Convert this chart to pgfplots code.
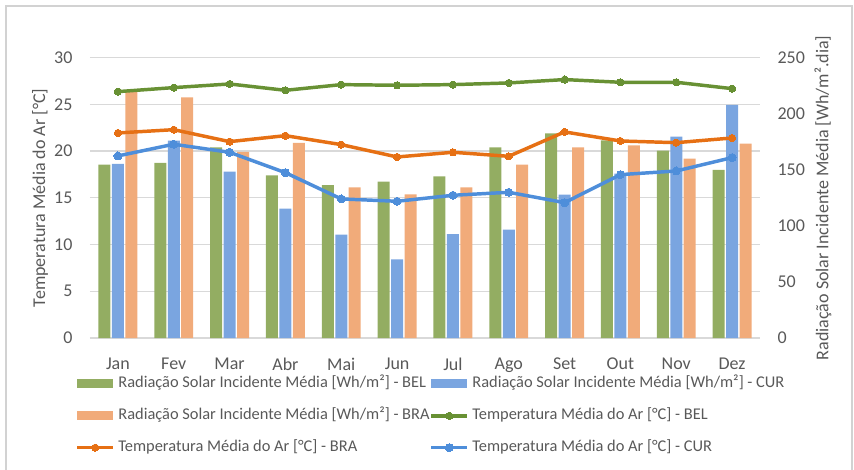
\documentclass[border=0pt]{standalone}
\usepackage{pgfplots}
\usepackage{pgfplotstable}
\pgfplotsset{compat=1.18}
\usepackage{fontspec}
\setmainfont{Carlito}
\definecolor{gridc}{RGB}{217,217,217}
\definecolor{framec}{RGB}{210,210,210}
\definecolor{txt}{RGB}{89,89,89}
\definecolor{barG}{RGB}{147,173,98}
\definecolor{barB}{RGB}{122,165,224}
\definecolor{barO}{RGB}{241,171,122}
\definecolor{lnG}{RGB}{104,145,52}
\definecolor{lnO}{RGB}{230,112,20}
\definecolor{lnB}{RGB}{78,142,218}

\pgfplotstableread{
x bel cur bra
0 154.6 155.2 220.0
1 156.1 176.0 214.6
2 170.0 148.3 165.9
3 145.1 115.3 173.9
4 136.4 92.2 134.4
5 139.4 70.2 128.1
6 144.2 92.7 134.4
7 170.0 96.6 154.6
8 182.5 127.8 170.0
9 176.3 146.5 171.8
10 167.1 179.5 159.9
11 149.8 207.8 173.3
}\rad

\pgfplotstableread{
x bel bra cur
0 26.36 21.94 19.48
1 26.79 22.29 20.73
2 27.18 21.01 19.87
3 26.50 21.65 17.69
4 27.11 20.69 14.88
5 27.04 19.37 14.63
6 27.11 19.87 15.27
7 27.29 19.44 15.59
8 27.65 22.05 14.48
9 27.36 21.08 17.48
10 27.36 20.90 17.87
11 26.68 21.40 19.30
}\temp

\pgfplotsset{
  base/.style={
    scale only axis, width=502.5pt, height=210.3pt,
    xmin=-0.5, xmax=11.5, ymin=0,
    axis line style={draw=none},
    major tick length=0pt,
    tick style={draw=none},
    ticklabel style={font=\fontsize{13.5}{16}\selectfont, text=txt, inner sep=0pt},
    /pgf/number format/assume math mode=true,
  },
  barleg/.style={legend image code/.code={\fill[##1] (0pt,-3.4pt) rectangle (27pt,3.4pt);}},
  lineleg/.style={legend image code/.code={\draw[mark repeat=2,mark phase=2,##1] plot coordinates {(0pt,0pt) (13.5pt,0pt) (27pt,0pt)};}},
}

\begin{document}
\begin{tikzpicture}
% grid + left axis
\begin{axis}[base, ymax=30, ytick={0,5,...,30}, xtick=\empty,
  ymajorgrids, grid style={gridc, line width=0.9pt},
  yticklabel style={xshift=-13pt},
  every axis y label/.style={at={(axis description cs:-0.0746,0.5)}, rotate=90, anchor=center, font=\fontsize{13.5}{16}\selectfont, text=txt},
  ylabel={Temperatura Média do Ar [°C]}]
\end{axis}
% bars + right axis
\begin{axis}[base, ymax=250, ytick={0,50,...,250},
  ytick pos=right, yticklabel pos=right,
  yticklabel style={xshift=13pt},
  xtick={0,...,11},
  xticklabels={Jan,Fev,Mar,Abr,Mai,Jun,Jul,Ago,Set,Out,Nov,Dez},
  xticklabel style={yshift=-15pt},
  every axis y label/.style={at={(axis description cs:1.094,0.5)}, rotate=90, anchor=center, font=\fontsize{13.5}{16}\selectfont, text=txt},
  ylabel={Radiação Solar Incidente Média [Wh/m².dia]},
  ybar=1.1pt, bar width=9pt]
\addplot[fill=barG, draw=none] table[x=x, y=bel] {\rad};
\addplot[fill=barB, draw=none] table[x=x, y=cur] {\rad};
\addplot[fill=barO, draw=none] table[x=x, y=bra] {\rad};
\end{axis}
% lines + legend
\begin{axis}[base, ymax=30, xtick=\empty, ytick=\empty,
  legend columns=2,
  legend cell align=left,
  legend style={at={(0,0)}, anchor=north west, xshift=-11pt, yshift=-28.5pt,
    draw=none, fill=none, inner sep=0pt, row sep=12.4pt,
    font=\fontsize{12.3}{14}\selectfont, text=txt,
    nodes={inner sep=0pt, text height=8.5pt, text depth=3pt},
    /tikz/every odd column/.append style={column sep=2.5pt},
    /tikz/every even column/.append style={column sep=0pt}},
  ]
\addlegendimage{fill=barG, draw=none, barleg}
\addlegendentry{Radiação Solar Incidente Média [Wh/m²] - BEL}
\addlegendimage{fill=barB, draw=none, barleg}
\addlegendentry{Radiação Solar Incidente Média [Wh/m²] - CUR}
\addlegendimage{fill=barO, draw=none, barleg}
\addlegendentry{Radiação Solar Incidente Média [Wh/m²] - BRA}
\addplot[lnG, line width=2.6pt, mark=*, mark size=2.7pt, mark options={fill=lnG, line width=0pt}, lineleg]
  table[x=x, y=bel] {\temp};
\addlegendentry{Temperatura Média do Ar [°C] - BEL}
\addplot[lnO, line width=2.6pt, mark=*, mark size=2.7pt, mark options={fill=lnO, line width=0pt}, lineleg]
  table[x=x, y=bra] {\temp};
\addlegendentry{Temperatura Média do Ar [°C] - BRA}
\addplot[lnB, line width=2.6pt, mark=*, mark size=3pt, mark options={fill=lnB, line width=0pt}, lineleg]
  table[x=x, y=cur] {\temp};
\addlegendentry{Temperatura Média do Ar [°C] - CUR}
\end{axis}
\draw[framec, line width=0.8pt] (-63pt,-110pt) -- (-63pt,249pt) -- (571.5pt,249pt) -- (571.5pt,-110pt);
\pgfresetboundingbox
\useasboundingbox (-67.5pt,-98.25pt) rectangle (573pt,253.5pt);
\end{tikzpicture}
\end{document}
